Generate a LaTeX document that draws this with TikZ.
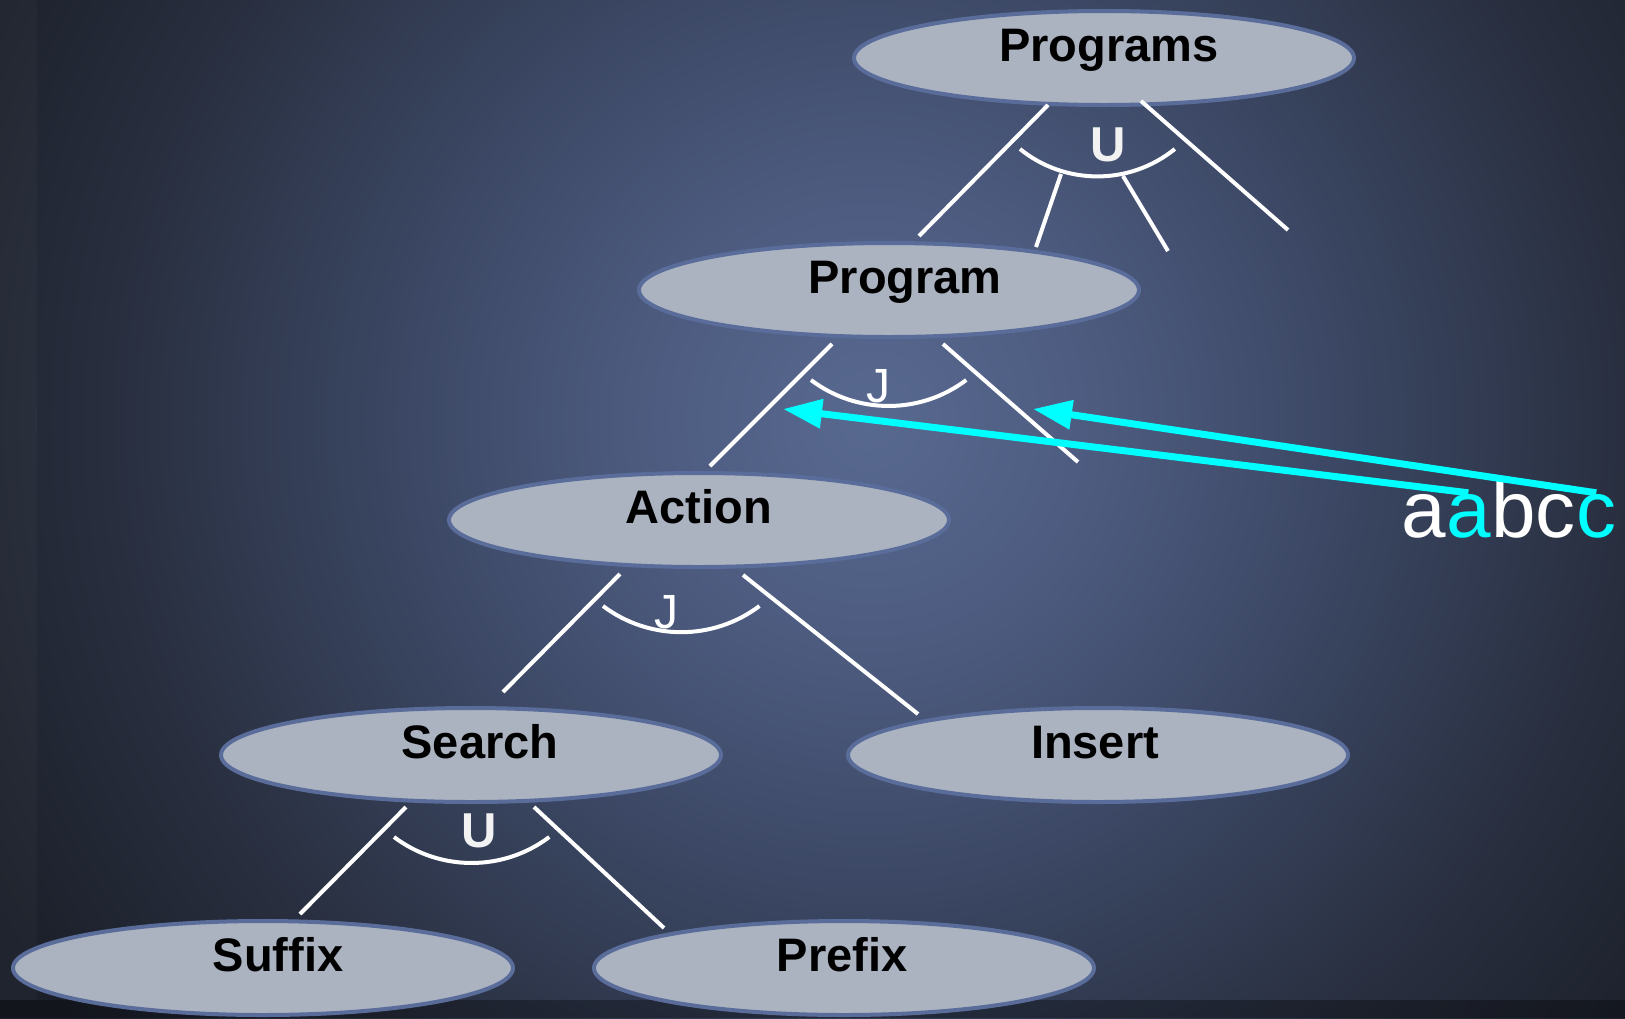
\documentclass[tikz,border=0pt]{standalone}
\usepackage{fontspec}
\setmainfont{Liberation Sans}
\usepackage{tikz}
\usepackage{xcolor}
\usetikzlibrary{shapes.geometric,arrows.meta,positioning}
\definecolor{glowA}{HTML}{586990}
\definecolor{glowB}{HTML}{4C5A7E}
\definecolor{glowC}{HTML}{3A4662}
\definecolor{glowD}{HTML}{282E3E}
\definecolor{glowE}{HTML}{1B1F29}
\definecolor{nodefill}{HTML}{ABB2C0}
\definecolor{noderim}{HTML}{5A6C9A}
\definecolor{scan}{HTML}{00FFFF}
\pgfdeclareradialshading{stage-glow}{\pgfpoint{0bp}{0bp}}{color(0bp)=(glowA); color(240bp)=(glowB); color(480bp)=(glowC); color(760bp)=(glowD); color(1000bp)=(glowE); color(1100bp)=(glowE)}
\tikzset{
    tree-node/.style = {ellipse, draw=noderim, fill=nodefill, line width=4pt, minimum width=500pt, minimum height=94pt, inner sep=0pt, text height=34pt, text depth=28pt, font=\fontsize{47}{50}\selectfont\bfseries},
    nudge/.style = {execute at begin node={\hspace*{#1}}},
    tree-edge/.style = {draw=white, line width=4pt},
    op-arc/.style = {draw=white, line width=4pt},
    op-union/.style = {text=white!90!gray, inner sep=0pt, text height=35pt, text depth=0pt, font=\fontsize{49}{50}\selectfont\bfseries},
    op-join/.style = {text=white, inner sep=0pt, text height=34pt, text depth=0pt, font=\fontsize{48}{50}\selectfont},
    tape-char/.style = {inner sep=0pt, text height=44pt, text depth=0pt, font=\fontsize{80}{82}\selectfont},
    scan-arrow/.style = {draw=scan, line width=7pt, -{Triangle[length=39pt,width=28pt]}},
}

\begin{document}
\begin{tikzpicture}[x=1pt, y=-1pt]
\useasboundingbox (0,0) rectangle (1625,1018);
\fill[glowE] (0,0) rectangle (1625,1018);
\begin{scope}
\clip (0,0) rectangle (1625,1018);
\pgftext[at=\pgfpoint{870pt}{-420pt}]{\pgfuseshading{stage-glow}}
\end{scope}
\fill[white, opacity=0.025] (0,0) rectangle (37,1000);
\fill[black, opacity=0.3] (0,1000) rectangle (1625,1018);

\node[tree-node, nudge=10pt] (progs) at (1104,58) {Programs};
\node[tree-node, nudge=32pt] (prog) at (889,290) {Program};
\node[tree-node] (act) at (699,520) {Action};
\node[tree-node, nudge=18pt] (srch) at (471,755) {Search};
\node[tree-node, nudge=-6pt] (ins) at (1098,755) {Insert};
\node[tree-node, nudge=30pt] (suf) at (263,968) {Suffix};
\node[tree-node, nudge=-4pt] (pre) at (844,968) {Prefix};

\coordinate (progs-r) at (1288,230);
\coordinate (progs-m1a) at (1061,174);
\coordinate (progs-m1b) at (1036,247);
\coordinate (progs-m2a) at (1123,176);
\coordinate (progs-m2b) at (1168,251);
\coordinate (prog-r) at (1078,462);

\draw[tree-edge] ([shift={(-56pt,2pt)}]progs.south) -- ([shift={(30pt,5pt)}]prog.north);
\draw[tree-edge] ([shift={(37pt,6pt)}]progs.south) -- (progs-r);
\draw[tree-edge] (progs-m1a) -- (progs-m1b);
\draw[tree-edge] (progs-m2a) -- (progs-m2b);
\draw[tree-edge] ([shift={(-57pt,-5pt)}]prog.south) -- ([shift={(11pt,5pt)}]act.north);
\draw[tree-edge] ([shift={(54pt,-5pt)}]prog.south) -- (prog-r);
\draw[tree-edge] ([shift={(-79pt,-5pt)}]act.south) -- ([shift={(32pt,14pt)}]srch.north);
\draw[tree-edge] ([shift={(44pt,-6pt)}]act.south) -- ([shift={(-180pt,-8pt)}]ins.north);
\draw[tree-edge] ([shift={(-65pt,-3pt)}]srch.south) -- ([shift={(37pt,5pt)}]suf.north);
\draw[tree-edge] ([shift={(63pt,-3pt)}]srch.south) -- ([shift={(-180pt,-9pt)}]pre.north);

\draw[op-arc] (1020,149) arc[start angle=129, end angle=51, radius=123];
\draw[op-arc] (811,380) arc[start angle=127, end angle=53, radius=129];
\draw[op-arc] (603,606) arc[start angle=127, end angle=53, radius=130];
\draw[op-arc] (394,837) arc[start angle=127, end angle=53, radius=129];

\node[op-union] (progs-op) at (1108,144) {U};
\node[op-join] (prog-op) at (878,385) {J};
\node[op-join] (act-op) at (666,611) {J};
\node[op-union] (srch-op) at (479,830) {U};

\node[tape-char, text=white, anchor=base west] (a1) at (1401,537) {a};
\node[tape-char, text=scan, base right=0pt of a1] (a2) {a};
\node[tape-char, text=white, base right=0pt of a2] (b1) {b};
\node[tape-char, text=white, base right=0pt of b1] (c1) {c};
\node[tape-char, text=scan, base right=0pt of c1] (c2) {c};

\coordinate (scan-l) at (783,409);
\coordinate (scan-r) at (1033,409);
\draw[scan-arrow] (a2.north) -- (scan-l);
\draw[scan-arrow] (c2.north) -- (scan-r);
\end{tikzpicture}
\end{document}
